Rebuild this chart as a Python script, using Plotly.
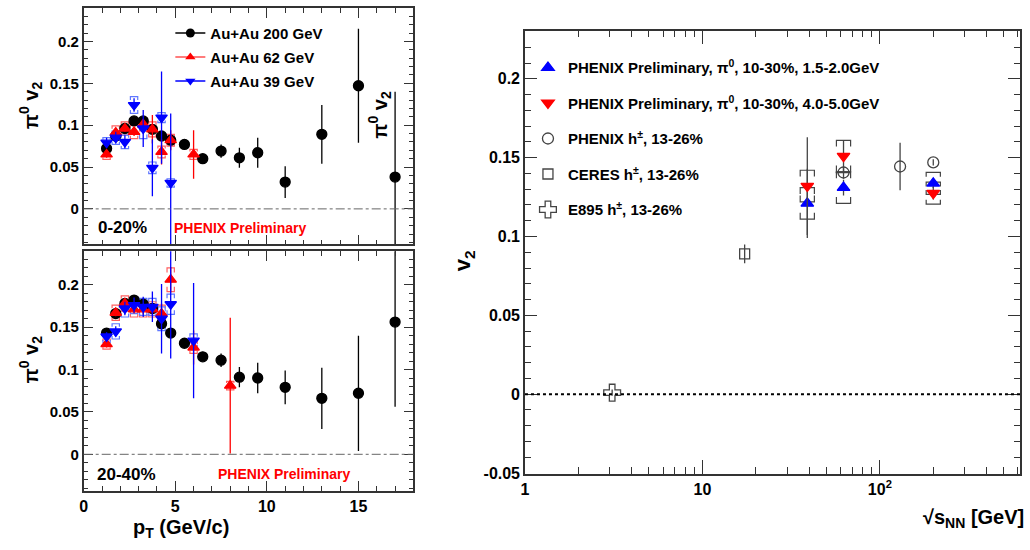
import plotly.graph_objects as go

W, H = 1030, 550

# ---------------- data: pi0 v2 vs pT, 0-20% ----------------
pt_200 = [1.25, 1.75, 2.25, 2.75, 3.25, 3.75, 4.25, 4.75, 5.5, 6.5, 7.5, 8.5, 9.5, 11, 13, 15, 17]
v2_200_c0 = [0.072, 0.087, 0.096, 0.105, 0.105, 0.095, 0.087, 0.082, 0.077, 0.060, 0.069, 0.061, 0.067, 0.032, 0.089, 0.147, 0.038]
er_200_c0 = [0.003, 0.003, 0.003, 0.003, 0.003, 0.004, 0.004, 0.004, 0.004, 0.004, 0.008, 0.012, 0.018, 0.019, 0.035, 0.068, 0.102]

pt_62_c0 = [1.25, 1.75, 2.25, 2.75, 3.25, 3.75, 4.25, 4.75, 6.0]
v2_62_c0 = [0.065, 0.091, 0.096, 0.092, 0.101, 0.095, 0.068, 0.082, 0.065]
er_62_c0 = [0.004, 0.004, 0.004, 0.005, 0.006, 0.017, 0.015, 0.012, 0.029]
sy_62_c0 = [0.006, 0.008, 0.008, 0.008, 0.008, 0.009, 0.007, 0.007, 0.006]

pt_39_c0 = [1.25, 1.75, 2.25, 2.75, 3.25, 3.75, 4.25, 4.75]
v2_39_c0 = [0.079, 0.085, 0.080, 0.124, 0.096, 0.049, 0.109, 0.031]
er_39_c0 = [0.006, 0.007, 0.008, 0.008, 0.022, 0.034, 0.055, 0.083]
sy_39_c0 = [0.006, 0.008, 0.008, 0.010, 0.012, 0.007, 0.006, 0.005]

# ---------------- data: pi0 v2 vs pT, 20-40% ----------------
v2_200_c1 = [0.143, 0.166, 0.178, 0.182, 0.177, 0.172, 0.154, 0.143, 0.131, 0.115, 0.111, 0.091, 0.090, 0.079, 0.066, 0.072, 0.156]
er_200_c1 = [0.003, 0.003, 0.003, 0.003, 0.003, 0.004, 0.004, 0.004, 0.004, 0.004, 0.008, 0.012, 0.018, 0.020, 0.036, 0.068, 0.100]

pt_62_c1 = [1.25, 1.75, 2.25, 2.75, 3.25, 3.75, 4.25, 4.75, 6.0, 8.0]
v2_62_c1 = [0.130, 0.167, 0.178, 0.171, 0.171, 0.171, 0.166, 0.206, 0.126, 0.081]
er_62_c1 = [0.004, 0.004, 0.004, 0.005, 0.006, 0.008, 0.012, 0.015, 0.020, 0.080]
sy_62_c1 = [0.006, 0.009, 0.009, 0.009, 0.009, 0.009, 0.010, 0.014, 0.007, 0.005]

pt_39_c1 = [1.25, 1.75, 2.25, 2.75, 3.25, 3.75, 4.25, 4.75, 6.0]
v2_39_c1 = [0.139, 0.145, 0.172, 0.176, 0.174, 0.174, 0.160, 0.177, 0.134]
er_39_c1 = [0.005, 0.006, 0.008, 0.009, 0.012, 0.018, 0.041, 0.064, 0.068]
sy_39_c1 = [0.007, 0.009, 0.010, 0.010, 0.010, 0.010, 0.014, 0.012, 0.008]

# ---------------- data: v2 vs sqrt(sNN) ----------------
e_pi0 = [39, 62.4, 200]
v2_pi0_lo = [0.121, 0.131, 0.1337]
er_pi0_lo = [0.022, 0.005, 0.003]
sy_pi0_lo = [0.010, 0.010, 0.007]
v2_pi0_hi = [0.132, 0.151, 0.1275]
er_pi0_hi = [0.031, 0.010, 0.004]
sy_pi0_hi = [0.010, 0.010, 0.007]

e_phx_h = [62.4, 130, 200]
v2_phx_h = [0.1406, 0.1444, 0.147]
er_phx_h = [0.004, 0.015, 0.002]
ex_phx_h = [6.0, 0.0, 0.0]

e_ceres = [17.3]
v2_ceres = [0.089]
er_ceres = [0.006]

e_e895 = [3.1]
v2_e895 = [0.001]
er_e895 = [0.002]

# ---------------- helpers ----------------
FONT = "Liberation Sans, Arial, Helvetica, sans-serif"
RED = "#ff0000"
RED_SYS = "#ff6060"
BLUE = "#0000ff"
BLUE_SYS = "#6078ff"


def brackets(xs, ys, ss, half, log=False):
    px, py = [], []
    for x, y, s in zip(xs, ys, ss):
        if log:
            xl, xr = x / half, x * half
        else:
            xl, xr = x - half, x + half
        d = 0.4 * s
        for sign in (1, -1):
            yy = y + sign * s
            px += [xl, xl, xr, xr, None]
            py += [yy - sign * d, yy, yy, yy - sign * d, None]
    return px, py


fig = go.Figure()


def add_sys(xs, ys, ss, color, xa, ya, half=0.2, log=False):
    px, py = brackets(xs, ys, ss, half, log)
    fig.add_trace(go.Scatter(x=px, y=py, mode="lines", line=dict(color=color, width=1.2),
                             showlegend=False, hoverinfo="skip", xaxis=xa, yaxis=ya))


def add_pts(xs, ys, es, color, symbol, size, xa, ya, ecolor=None, name=None,
            legend=None, ex=None):
    kw = {}
    if ex is not None:
        kw["error_x"] = dict(type="data", array=ex, color=ecolor or color, width=0, thickness=1.3)
    fig.add_trace(go.Scatter(
        x=xs, y=ys, mode="markers",
        marker=dict(color=color, symbol=symbol, size=size,
                    line=dict(color=color, width=1.3)),
        error_y=dict(type="data", array=es, color=ecolor or color, width=0, thickness=1.3),
        showlegend=name is not None, name=name, legend=legend,
        legendgroup=name, xaxis=xa, yaxis=ya, **kw))


# left panels
for xa, ya, v200, e200, p62, v62, e62, s62, p39, v39, e39, s39 in [
    ("x", "y", v2_200_c0, er_200_c0, pt_62_c0, v2_62_c0, er_62_c0, sy_62_c0,
     pt_39_c0, v2_39_c0, er_39_c0, sy_39_c0),
    ("x2", "y2", v2_200_c1, er_200_c1, pt_62_c1, v2_62_c1, er_62_c1, sy_62_c1,
     pt_39_c1, v2_39_c1, er_39_c1, sy_39_c1),
]:
    add_sys(p62, v62, s62, RED_SYS, xa, ya)
    add_sys(p39, v39, s39, BLUE_SYS, xa, ya)
    add_pts(pt_200, v200, e200, "black", "circle", 10, xa, ya)
    add_pts(p62, v62, e62, RED, "triangle-up", 10, xa, ya)
    add_pts(p39, v39, e39, BLUE, "triangle-down", 10, xa, ya)

# left legend (line + marker samples)
for nm, col, lcol, sym in [("Au+Au 200 GeV", "black", "black", "circle"),
                           ("Au+Au 62 GeV", RED, "#ff5050", "triangle-up"),
                           ("Au+Au 39 GeV", BLUE, BLUE, "triangle-down")]:
    fig.add_trace(go.Scatter(x=[None], y=[None], mode="lines+markers", name=nm,
                             legendgroup=nm, legend="legend",
                             line=dict(color=lcol, width=1.5),
                             marker=dict(color=col, symbol=sym, size=9),
                             xaxis="x", yaxis="y"))

# right panel
GRAY = "#444444"
add_sys(e_pi0, v2_pi0_lo, sy_pi0_lo, GRAY, "x3", "y3", half=10 ** 0.04, log=True)
add_sys(e_pi0, v2_pi0_hi, sy_pi0_hi, GRAY, "x3", "y3", half=10 ** 0.04, log=True)
add_pts(e_pi0, v2_pi0_lo, er_pi0_lo, BLUE, "triangle-up", 11, "x3", "y3", ecolor=GRAY,
        name="PHENIX Preliminary, π<sup>0</sup>, 10-30%, 1.5-2.0GeV", legend="legend2")
add_pts(e_pi0, v2_pi0_hi, er_pi0_hi, RED, "triangle-down", 11, "x3", "y3", ecolor=GRAY,
        name="PHENIX Preliminary, π<sup>0</sup>, 10-30%, 4.0-5.0GeV", legend="legend2")
add_pts(e_phx_h, v2_phx_h, er_phx_h, GRAY, "circle-open", 11, "x3", "y3", ecolor=GRAY,
        name="PHENIX h<sup>±</sup>, 13-26%", legend="legend2", ex=ex_phx_h)
add_pts(e_ceres, v2_ceres, er_ceres, GRAY, "square-open", 10, "x3", "y3", ecolor=GRAY,
        name="CERES h<sup>±</sup>, 13-26%", legend="legend2")
add_pts(e_e895, v2_e895, er_e895, GRAY, "cross-open", 14, "x3", "y3", ecolor=GRAY,
        name="E895 h<sup>±</sup>, 13-26%", legend="legend2")


def px2x(p):
    return p / W


def py2y(p):
    return 1 - p / H


AX = dict(showline=True, linecolor="#333333", linewidth=1.5, mirror="ticks",
          ticks="inside", tickcolor="#333333", tickwidth=1.3, showgrid=False,
          zeroline=False, tickfont=dict(size=15, family=FONT, color="black", weight="bold"))

left_x = dict(AX, range=[0, 18], domain=[px2x(80), px2x(411)], tickmode="array",
              tickvals=[0, 5, 10, 15], ticklen=10,
              minor=dict(ticks="inside", dtick=1, tick0=0, ticklen=5, tickcolor="#333333"))
left_y_common = dict(AX, tickmode="array", tickvals=[0, 0.05, 0.1, 0.15, 0.2],
                     ticktext=["0", "0.05", "0.1", "0.15", "0.2"], ticklen=10,
                     minor=dict(ticks="inside", dtick=0.01, tick0=0, ticklen=5, tickcolor="#333333"))

minor_log = [2, 3, 4, 5, 6, 7, 8, 9, 20, 30, 40, 50, 60, 70, 80, 90, 200, 300, 400, 500, 600]

fig.update_layout(
    width=W, height=H, autosize=False,
    margin=dict(l=0, r=0, t=0, b=0),
    paper_bgcolor="white", plot_bgcolor="white",
    font=dict(family=FONT, color="black", weight="bold"),
    xaxis=dict(left_x, anchor="y", showticklabels=False),
    yaxis=dict(left_y_common, anchor="x", range=[-0.0424, 0.24],
               domain=[py2y(248), py2y(8)]),
    xaxis2=dict(left_x, anchor="y2", tickfont=dict(size=16, family=FONT, color="black", weight="bold")),
    yaxis2=dict(left_y_common, anchor="x2", range=[-0.043, 0.2395],
                domain=[py2y(498), py2y(255)]),
    xaxis3=dict(AX, type="log", anchor="y3", range=[0, 2.79],
                domain=[px2x(523), px2x(1020)], tickmode="array",
                tickvals=[1, 10, 100], ticktext=["1", "10", "10<sup>2</sup>"], ticklen=14,
                tickfont=dict(size=16, family=FONT, color="black", weight="bold"),
                minor=dict(ticks="inside", tickmode="array", tickvals=minor_log, ticklen=7,
                           tickcolor="#333333")),
    yaxis3=dict(AX, anchor="x3", range=[-0.0506, 0.2306], domain=[py2y(481), py2y(31)],
                tickmode="array", tickvals=[-0.05, 0, 0.05, 0.1, 0.15, 0.2],
                ticktext=["-0.05", "0", "0.05", "0.1", "0.15", "0.2"], ticklen=12,
                tickfont=dict(size=16, family=FONT, color="black", weight="bold"),
                minor=dict(ticks="inside", dtick=0.01, tick0=0, ticklen=6, tickcolor="#333333")),
    legend=dict(x=px2x(167), y=py2y(17), xanchor="left", yanchor="top",
                bgcolor="rgba(0,0,0,0)", borderwidth=0, itemwidth=30,
                tracegroupgap=1.5, traceorder="grouped",
                font=dict(size=15, family=FONT, color="black", weight="bold")),
    legend2=dict(x=px2x(526), y=py2y(52), xanchor="left", yanchor="top",
                 bgcolor="rgba(0,0,0,0)", borderwidth=0, itemwidth=30,
                 tracegroupgap=13, traceorder="grouped",
                 font=dict(size=15, family=FONT, color="black", weight="bold")),
    showlegend=True,
)

# zero lines
fig.add_shape(type="line", xref="x domain", yref="y", x0=0, x1=1, y0=0, y1=0,
              line=dict(color="#666666", width=1, dash="dashdot"))
fig.add_shape(type="line", xref="x2 domain", yref="y2", x0=0, x1=1, y0=0, y1=0,
              line=dict(color="#666666", width=1, dash="dashdot"))
fig.add_shape(type="line", xref="x3 domain", yref="y3", x0=0, x1=1, y0=0, y1=0,
              line=dict(color="black", width=2, dash="dot"))


def ann(text, x, y, size, color="black", angle=0, xanchor="center"):
    fig.add_annotation(text=text, x=px2x(x), y=py2y(y), xref="paper", yref="paper",
                       showarrow=False, textangle=angle, xanchor=xanchor, yanchor="middle",
                       font=dict(size=size, color=color, family=FONT, weight="bold"))


ann("π<sup>0</sup> v<sub>2</sub>", 27, 107, 20, angle=-90)
ann("π<sup>0</sup> v<sub>2</sub>", 377, 117, 20, angle=-90)
ann("π<sup>0</sup> v<sub>2</sub>", 27, 365, 20, angle=-90)
ann("0-20%", 119, 231, 17)
ann("PHENIX Preliminary", 237, 231, 14, color=RED)
ann("20-40%", 123, 481, 17)
ann("PHENIX Preliminary", 281, 481, 14, color=RED)
ann("p<sub>T</sub> (GeV/c)", 178, 536, 20)
ann("√s<sub>NN</sub> [GeV]", 1026, 526, 20, xanchor="right")
ann("v<sub>2</sub>", 462, 265, 22, angle=-90)

fig.write_html("out.html", config={"displayModeBar": False},
               post_script="document.body.style.margin='0';")
